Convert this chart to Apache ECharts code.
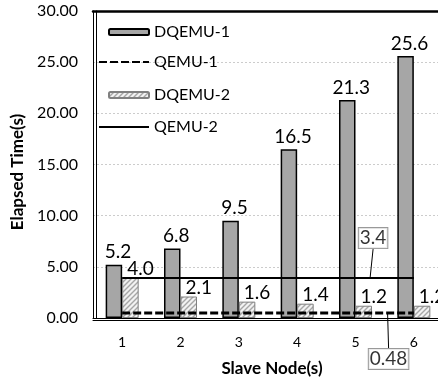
<!DOCTYPE html>
<html>
<head>
<meta charset="utf-8">
<script src="https://cdn.jsdelivr.net/npm/echarts@6/dist/echarts.min.js"></script>
<style>
html,body{margin:0;padding:0;background:#fff;}
#chart{width:438px;height:379px;}
</style>
</head>
<body>
<div id="chart"></div>
<script>
// ---- data ----
var categories = ['1', '2', '3', '4', '5', '6'];
var dqemu1 = [5.2, 6.8, 9.5, 16.5, 21.3, 25.6];
var dqemu2 = [4.0, 2.1, 1.6, 1.4, 1.2, 1.2];
var qemu1 = [0.48, 0.48, 0.48, 0.48, 0.48, 0.48];
var qemu2 = [3.9, 3.9, 3.9, 3.9, 3.9, 3.9];
var yTicks = [0, 5, 10, 15, 20, 25, 30];
// callout annotations: x position (in category units from left edge), y value, text
var calloutX = [4.75, 5.05];
var calloutY = [3.9, 0.48];
var calloutText = ['3.4', '0.48'];

// hatch pattern for DQEMU-2
var pc = document.createElement('canvas');
pc.width = 5; pc.height = 5;
var ctx = pc.getContext('2d');
ctx.fillStyle = '#f2f2f2';
ctx.fillRect(0, 0, 5, 5);
ctx.strokeStyle = '#a6a6a6';
ctx.lineWidth = 1.4;
ctx.beginPath();
ctx.moveTo(-1, 6); ctx.lineTo(6, -1);
ctx.moveTo(-1, 1); ctx.lineTo(1, -1);
ctx.moveTo(4, 6); ctx.lineTo(6, 4);
ctx.stroke();
var hatch = { image: pc, repeat: 'repeat' };

var FONT = 'Lato';
var chart = echarts.init(document.getElementById('chart'), null, { renderer: 'canvas' });

var option = {
  animation: false,
  backgroundColor: '#fff',
  textStyle: { fontFamily: FONT },
  grid: { left: 93, top: 11, right: -5, bottom: 61, show: false, containLabel: false, outerBoundsMode: 'none' },
  legend: [
    {
      data: ['DQEMU-1', 'DQEMU-2'],
      orient: 'vertical', left: 103, top: 19,
      itemWidth: 40, itemHeight: 6, itemGap: 47,
      textStyle: { fontFamily: FONT, fontSize: 16, color: '#000' }
    },
    {
      data: ['QEMU-1', 'QEMU-2'],
      orient: 'vertical', left: 93, top: 49,
      itemWidth: 50, itemHeight: 2, itemGap: 49,
      textStyle: { fontFamily: FONT, fontSize: 16, color: '#000' }
    }
  ],
  xAxis: [
    {
      type: 'category', data: categories, position: 'bottom',
      name: 'Slave Node(s)', nameLocation: 'middle', nameGap: 42,
      nameTextStyle: { fontFamily: FONT, fontWeight: 'bold', fontSize: 17, color: '#000', padding: [0, 0, 0, 8] },
      axisLine: { show: true, lineStyle: { color: '#000', width: 1 } },
      axisTick: { show: false },
      axisLabel: { fontFamily: FONT, fontSize: 14, color: '#000', margin: 17 },
      splitLine: { show: false }
    },
    {
      type: 'value', min: 0, max: 6, position: 'bottom', offset: 2,
      axisLine: { show: true, onZero: false, lineStyle: { color: '#000', width: 1 } },
      axisTick: { show: false }, axisLabel: { show: false }, splitLine: { show: false }
    },
    {
      type: 'category', data: categories, position: 'top',
      axisLine: { show: true, onZero: false, lineStyle: { color: '#000', width: 2.5 } },
      axisTick: { show: false }, axisLabel: { show: false }, splitLine: { show: false }
    }
  ],
  yAxis: [
    {
      type: 'value', min: yTicks[0], max: yTicks[yTicks.length - 1], interval: 5,
      name: 'Elapsed Time(s)', nameLocation: 'middle', nameGap: 59,
      nameTextStyle: { fontFamily: FONT, fontWeight: 'bold', fontSize: 17, color: '#000', padding: [0, 15, 0, 0] },
      axisLine: { show: true, lineStyle: { color: '#000', width: 1 } },
      axisTick: { show: false },
      axisLabel: { fontFamily: FONT, fontSize: 16, color: '#000', margin: 15,
        formatter: function (v) { return v.toFixed(2); } },
      splitLine: { show: true, lineStyle: { color: '#cccccc', width: 1, type: [2, 2] } }
    },
    {
      type: 'value', min: yTicks[0], max: yTicks[yTicks.length - 1], interval: 5, position: 'left', offset: -3,
      axisLine: { show: true, onZero: false, lineStyle: { color: '#000', width: 1 } },
      axisTick: { show: false }, axisLabel: { show: false }, splitLine: { show: false }
    }
  ],
  series: [
    {
      name: 'DQEMU-1', type: 'bar', data: dqemu1, barWidth: 16.5, barGap: '0%',
      itemStyle: { color: '#a6a6a6', borderColor: '#000', borderWidth: 1.5 },
      label: { show: true, position: 'top', distance: 3, offset: [4, 0],
        fontFamily: FONT, fontSize: 19, color: '#000',
        formatter: function (p) { return p.value.toFixed(1); } }
    },
    {
      name: 'DQEMU-2', type: 'bar', data: dqemu2, barWidth: 16.5, barGap: '0%',
      itemStyle: { color: hatch, borderColor: '#808080', borderWidth: 1 },
      label: { show: true, position: 'top', distance: -1, offset: [10, 0],
        fontFamily: FONT, fontSize: 19, color: '#000',
        formatter: function (p) { return p.value.toFixed(1); } }
    },
    {
      name: 'QEMU-1', type: 'line', data: qemu1, symbol: 'none', z: 5,
      lineStyle: { color: '#000', width: 3, type: [8, 3] },
      itemStyle: { color: '#000' }
    },
    {
      name: 'QEMU-2', type: 'line', data: qemu2, symbol: 'none', z: 5,
      lineStyle: { color: '#000', width: 2, type: 'solid' },
      itemStyle: { color: '#000' }
    },
    {
      name: 'callouts', type: 'scatter', xAxisIndex: 1, yAxisIndex: 0, z: 6,
      symbolSize: 1, itemStyle: { color: 'rgba(0,0,0,0)' },
      silent: true,
      data: calloutX.map(function (x, i) {
        return { value: [x, calloutY[i]], label: { formatter: calloutText[i] } };
      }),
      label: {
        show: true, position: 'inside',
        fontFamily: FONT, fontSize: 19, color: '#000',
        backgroundColor: '#fff', borderColor: '#7f7f7f', borderWidth: 1,
        padding: [1, 1, 0, 1]
      },
      labelLine: { show: true, lineStyle: { color: '#000', width: 1 } },
      labelLayout: function (params) {
        return params.dataIndex === 0 ? { dx: 3, dy: -40 } : { dx: 1, dy: 46 };
      }
    }
  ]
};
chart.setOption(option);
</script>
</body>
</html>
